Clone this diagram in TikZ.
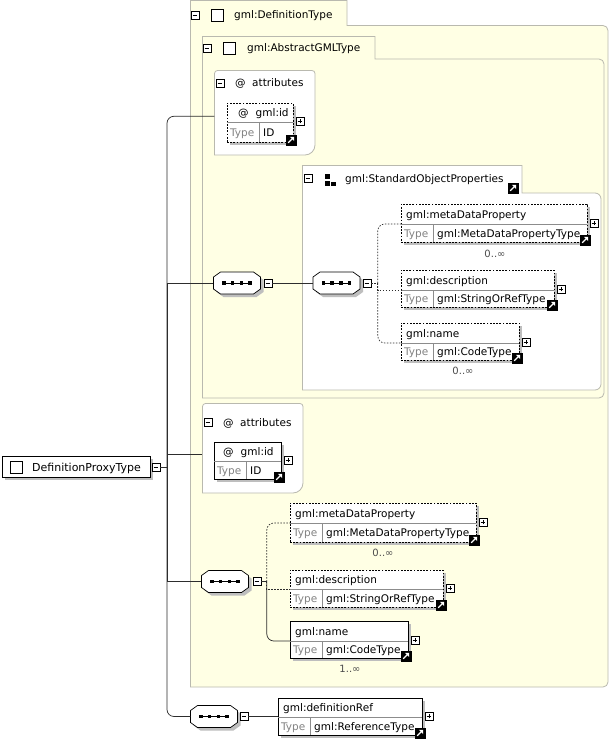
\documentclass[tikz,border=0pt]{standalone}
\usepackage{fontspec}
\setmainfont{DejaVu Sans}
\usetikzlibrary{fit,arrows.meta}
\definecolor{panelfill}{RGB}{255,255,228}
\definecolor{panelline}{RGB}{185,185,175}
\definecolor{shadowc}{RGB}{190,190,190}
\definecolor{typegray}{RGB}{130,130,130}
\definecolor{linec}{RGB}{45,45,45}
\tikzset{
  txt/.style={inner sep=0pt, anchor=base west, font=\fontsize{10.5}{12}\selectfont},
  occ/.style={inner sep=0pt, anchor=base, text=black!70, font=\fontsize{10}{12}\selectfont},
  panel/.style={draw=panelline, line width=0.8pt, fill=panelfill},
  wpanel/.style={draw=panelline, line width=0.8pt, fill=white},
  conn/.style={draw=linec, line width=0.7pt},
  dotc/.style={draw=linec, line width=0.7pt, dash pattern=on 1.5pt off 1.5pt},
  optbox/.style={dash pattern=on 1.8pt off 1.4pt},
  reqbox/.style={solid},
  minusbox/.style={draw=black, fill=white, minimum size=8pt, inner sep=0pt, line width=0.6pt,
    path picture={\draw[line width=0.6pt] ([xshift=1.6pt]path picture bounding box.west) -- ([xshift=-1.6pt]path picture bounding box.east);}},
  plusbox/.style={draw=black, fill=white, minimum size=8pt, inner sep=0pt, line width=0.6pt,
    path picture={\draw[line width=0.6pt] ([xshift=1.6pt]path picture bounding box.west) -- ([xshift=-1.6pt]path picture bounding box.east);
      \draw[line width=0.6pt] ([yshift=1.6pt]path picture bounding box.south) -- ([yshift=-1.6pt]path picture bounding box.north);}},
  linkicon/.style={draw=black, fill=black, minimum size=10pt, inner sep=0pt, line width=0.6pt,
    path picture={\draw[white, line width=1.2pt] ([shift={(2.2pt,2.2pt)}]path picture bounding box.south west) -- ([shift={(-3.5pt,-3.5pt)}]path picture bounding box.north east);
      \fill[white] ([shift={(-1.8pt,-1.8pt)}]path picture bounding box.north east) -- ([shift={(-1.8pt,-6pt)}]path picture bounding box.north east) -- ([shift={(-6pt,-1.8pt)}]path picture bounding box.north east) -- cycle;}},
  compicon/.style={draw=black, fill=white, minimum size=12pt, inner sep=0pt, line width=0.7pt},
}
% element box: [style] name x1 y1 x2 y2 ydiv title type
\newcommand{\elbox}[9][reqbox]{%
  \fill[shadowc] (#3+3,#4+3) rectangle (#5+3,#6+3);
  \node[fit={(#3,#4) (#5,#6)}, inner sep=0pt, draw=black, fill=white, line width=0.7pt, #1] (#2) {};
  \draw[line width=0.5pt, draw=black!45] (#3,#7) -- (#5,#7);
  \draw[line width=0.5pt, draw=black!45] (#3+32,#7) -- (#3+32,#6);
  \coordinate (#2-in) at (#3,#7);
  \node[txt] at (#3+5,{(#4+#7)/2+4}) {#8};
  \node[txt, text=typegray] at (#3+3,{(#7+#6)/2+4}) {Type};
  \node[txt] at (#3+36,{(#7+#6)/2+4}) {#9};
  \node[plusbox] (#2-plus) at (#5+7,#7-1) {};
  \node[linkicon] (#2-link) at (#5-2,#6-2) {};
}
% sequence compositor: name cx cy
\newcommand{\seqnode}[3]{%
  \begin{scope}[shift={(#2,#3)}]
    \fill[shadowc] (-20.5,-3) -- (-13.5,-8) -- (19.5,-8) -- (26.5,-3) -- (26.5,9) -- (19.5,14) -- (-13.5,14) -- (-20.5,9) -- cycle;
    \draw[fill=white, line width=0.7pt] (-23.5,-6) -- (-16.5,-11) -- (16.5,-11) -- (23.5,-6) -- (23.5,6) -- (16.5,11) -- (-16.5,11) -- (-23.5,6) -- cycle;
    \draw[line width=0.6pt] (-13,0) -- (13,0);
    \foreach \dx in {-13,-4.5,4.5,13} {\fill (\dx-1.8,-1.8) rectangle (\dx+1.8,1.8);}
  \end{scope}
  \node[minimum width=47pt, minimum height=22pt, inner sep=0pt] (#1) at (#2,#3) {};
}
\begin{document}
\begin{tikzpicture}[x=1pt,y=-1pt]
\useasboundingbox (0,0) rectangle (610,741);
\fill[white] (0,0) rectangle (610,741);

% ---------- panels ----------
\draw[panel] (190.5,687) -- (190.5,0.5) -- (347,0.5) -- (347,25.5) [rounded corners=5pt] -- (608,25.5) -- (608,687) [sharp corners] -- cycle;
\draw[panel] (202.5,398) -- (202.5,36.5) -- (375,36.5) -- (375,59) [rounded corners=5pt] -- (604,59) -- (604,398) [sharp corners] -- cycle;
\draw[wpanel] (302.5,390) -- (302.5,165.5) -- (522,165.5) -- (522,193) [rounded corners=6pt] -- (601,193) -- (601,390) [sharp corners] -- cycle;
\draw[wpanel] (214.5,155) [rounded corners=3pt] -- (214.5,70.5) -- (315,70.5) [rounded corners=10pt] -- (315,155) [sharp corners] -- cycle;
\draw[wpanel] (202.5,493) [rounded corners=3pt] -- (202.5,403.5) -- (303,403.5) [rounded corners=10pt] -- (303,493) [sharp corners] -- cycle;
\node[fit={(214.5,70.5) (315,155)}, inner sep=0pt] (attr1a) {};
\node[fit={(202.5,403.5) (303,493)}, inner sep=0pt] (attr2a) {};

% panel titles
\node[minusbox] (pm1) at (195,15) {};
\node[compicon] (pc1) at (217,15) {};
\node[txt] (pt1) at (234,19) {gml:DefinitionType};
\node[minusbox] (pm2) at (207,48) {};
\node[compicon] (pc2) at (229,48) {};
\node[txt] (pt2) at (247,52) {gml:AbstractGMLType};
\node[minusbox] (pm3) at (220,83) {};
\node[txt] (pa3) at (235,87) {@};
\node[txt] (pt3) at (252,87) {attributes};
\node[minusbox] (pm4) at (208,422) {};
\node[txt] (pa4) at (223,426) {@};
\node[txt] (pt4) at (240,426) {attributes};
\node[minusbox] (pm5) at (308,178) {};
\fill (324.5,174) rectangle (329.5,179);
\fill (324.5,181) rectangle (329.5,186);
\fill (331,182) rectangle (335.5,186);
\node[txt] (pt5) at (345,182) {gml:StandardObjectProperties};
\node[linkicon] (pl5) at (513,188) {};

% ---------- root ----------
\fill[shadowc] (5,459) rectangle (153,480);
\node[fit={(2,456) (150,477)}, inner sep=0pt, draw=black, fill=white, line width=0.8pt] (root) {};
\node[compicon] (rooticon) at (16,467) {};
\node[txt, font=\fontsize{11}{13}\selectfont] (roottxt) at (32,471) {DefinitionProxyType};
\node[minusbox] (rm) at (156,467) {};
\coordinate (trunk) at (167,467);

% ---------- compositors ----------
\seqnode{s1}{237}{283}
\node[minusbox] (m1) at (268,283) {};
\seqnode{s2}{336.5}{283}
\node[minusbox] (m2) at (367,283) {};
\seqnode{s3}{225}{581.5}
\node[minusbox] (m3) at (257,581.5) {};
\seqnode{s4}{214}{716.5}
\node[minusbox] (m4) at (244,716.5) {};

% ---------- element boxes ----------
\elbox[optbox]{gid1}{227}{103}{293}{142}{122}{\kern6pt@\kern7pt gml:id}{ID}
\elbox{gid2}{214}{442}{281}{479}{461}{\kern4pt@\kern7pt gml:id}{ID}
\elbox[optbox]{md1}{401}{204}{587}{242}{224}{gml:metaDataProperty}{gml:MetaDataPropertyType}
\elbox[optbox]{desc1}{401}{270}{554}{307}{290}{gml:description}{gml:StringOrRefType}
\elbox[optbox]{name1}{401}{323}{519}{360}{343}{gml:name}{gml:CodeType}
\elbox[optbox]{md2}{290}{503}{476}{542}{523}{gml:metaDataProperty}{gml:MetaDataPropertyType}
\elbox[optbox]{desc2}{290}{570}{443}{607}{589}{gml:description}{gml:StringOrRefType}
\elbox{name2}{290}{621}{408}{658}{641}{gml:name}{gml:CodeType}
\elbox{defref}{278}{698}{422}{735}{717}{gml:definitionRef}{gml:ReferenceType}

% ---------- connectors ----------
\draw[conn] (rm.east) -- (trunk);
\draw[conn, rounded corners=7pt] (trunk) |- ([yshift=-3.5pt]attr1a.west);
\draw[conn] (trunk) |- (s1.west);
\draw[conn] (trunk) |- ([yshift=-6pt]attr2a.west);
\draw[conn] (trunk) |- (s3.west);
\draw[conn, rounded corners=7pt] (trunk) |- (s4.west);
\draw[conn] (m1.east) -- (s2.west);
\draw[conn] (m4.east) -- (defref.west |- m4.east);

\draw[dotc] (m2.east) -- ([xshift=6.5pt]m2.east);
\draw[dotc, rounded corners=7pt] ([xshift=6.5pt]m2.east) |- (md1-in);
\draw[dotc] ([xshift=6.5pt]m2.east) |- (desc1-in);
\draw[dotc, rounded corners=7pt] ([xshift=6.5pt]m2.east) |- (name1-in);

\draw[conn] (m3.east) -- ([xshift=5.5pt]m3.east);
\draw[dotc, rounded corners=7pt] ([xshift=5.5pt]m3.east) |- (md2-in);
\draw[dotc] ([xshift=5.5pt]m3.east) |- (desc2-in);
\draw[conn, rounded corners=7pt] ([xshift=5.5pt]m3.east) |- (name2-in);

% ---------- occurrences ----------
\node[occ] (o1) at (495,257) {0..∞};
\node[occ] (o2) at (463,374) {0..∞};
\node[occ] (o3) at (383,556) {0..∞};
\node[occ] (o4) at (350,672) {1..∞};
\end{tikzpicture}
\end{document}
